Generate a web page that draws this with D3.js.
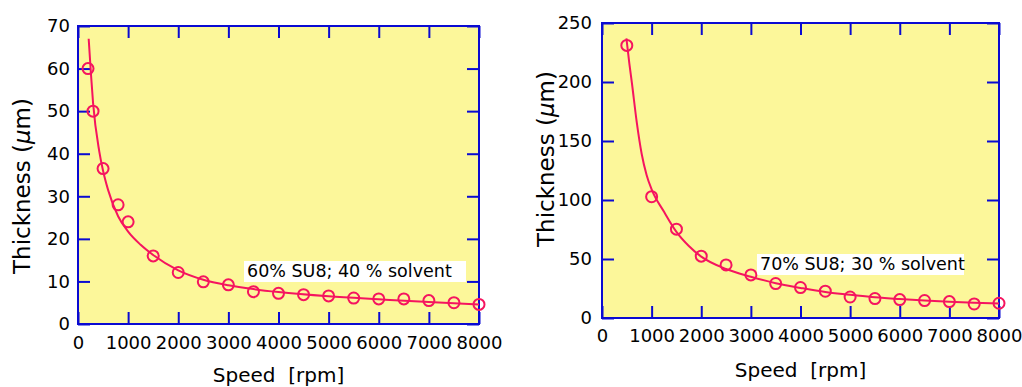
<!DOCTYPE html>
<html>
<head>
<meta charset="utf-8">
<script src="https://cdn.jsdelivr.net/npm/d3@7"></script>
<style>
  html, body { margin: 0; padding: 0; background: #ffffff; }
  svg { display: block; }
  text { font-family: "DejaVu Sans", Verdana, sans-serif; fill: #000; }
</style>
</head>
<body>
<svg id="chart" width="1022" height="387"></svg>
<script>
// ---------- DATA ----------
const speedTicks = [0, 1000, 2000, 3000, 4000, 5000, 6000, 7000, 8000];

// Left chart: 60% SU8; 40 % solvent
const leftTitle = "60% SU8; 40 % solvent";
const leftYTicks = [0, 10, 20, 30, 40, 50, 60, 70];
const leftSpeeds = [200, 300, 500, 800, 1000, 1500, 2000, 2500, 3000, 3500, 4000, 4500, 5000, 5500, 6000, 6500, 7000, 7500, 8000];
const leftThickness = [60, 50, 36.5, 28, 24, 16, 12.1, 9.9, 9.2, 7.6, 7.2, 6.9, 6.6, 6.1, 5.9, 5.9, 5.5, 5.0, 4.6];
// fitted curve
const leftFitSpeeds = [213, 260, 300, 425, 500, 600, 800, 1000, 1250, 1500, 2000, 2500, 3000, 3500, 4000, 5000, 6000, 7000, 8000];
const leftFitThickness = [67, 58.5, 52, 40.5, 36, 31.5, 25.3, 21.7, 18.6, 16.2, 12.6, 10.4, 9.1, 8.2, 7.5, 6.5, 5.8, 5.15, 4.6];

// Right chart: 70% SU8; 30 % solvent
const rightTitle = "70% SU8; 30 % solvent";
const rightYTicks = [0, 50, 100, 150, 200, 250];
const rightSpeeds = [500, 1000, 1500, 2000, 2500, 3000, 3500, 4000, 4500, 5000, 5500, 6000, 6500, 7000, 7500, 8000];
const rightThickness = [231, 102.8, 75.3, 52.4, 45, 36.5, 29.2, 25.8, 22.7, 17.8, 16.5, 15.6, 14.8, 13.9, 11.9, 12.5];
const rightFitSpeeds = [492, 550, 600, 700, 800, 900, 1000, 1250, 1500, 1750, 2000, 2500, 3000, 3500, 4000, 4500, 5000, 5500, 6000, 6500, 7000, 7500, 8000];
const rightFitThickness = [237, 216, 200, 166, 139, 121, 109, 90, 73, 61, 52, 41.5, 35, 29.5, 25.5, 22, 19.7, 17.5, 16, 14.8, 13.8, 13, 12.3];

const xLabel = "Speed  [rpm]";

// ---------- STYLE ----------
const AXIS = "#0a0ad2";
const PLOT_BG = "#fcf79a";
const MARK = "#f5145f";

const svg = d3.select("#chart");

function drawPanel(cfg) {
  const g = svg.append("g");
  const x = d3.scaleLinear().domain([0, 8000]).range([cfg.left, cfg.right]);
  const y = d3.scaleLinear().domain([0, cfg.yMax]).range([cfg.bottom, cfg.top]);

  // plot background
  g.append("rect")
    .attr("x", cfg.left).attr("y", cfg.top)
    .attr("width", cfg.right - cfg.left).attr("height", cfg.bottom - cfg.top)
    .attr("fill", PLOT_BG);

  const styleAxis = sel => {
    sel.select(".domain").remove();
    sel.selectAll(".tick line").attr("stroke", AXIS).attr("stroke-width", 2);
    sel.selectAll(".tick text").style("font-size", "18px").style("font-family", '"DejaVu Sans", Verdana, sans-serif').attr("fill", "#000");
  };

  // bottom
  g.append("g").attr("transform", `translate(0,${cfg.bottom})`)
    .call(d3.axisBottom(x).tickValues(speedTicks).tickFormat(d3.format("d"))
      .tickSizeInner(-12).tickSizeOuter(0).tickPadding(cfg.xPad))
    .call(styleAxis);
  // top
  g.append("g").attr("transform", `translate(0,${cfg.top})`)
    .call(d3.axisTop(x).tickValues(speedTicks).tickFormat("")
      .tickSizeInner(-12).tickSizeOuter(0))
    .call(styleAxis);
  // left
  g.append("g").attr("transform", `translate(${cfg.left},0)`)
    .call(d3.axisLeft(y).tickValues(cfg.yTicks).tickFormat(d3.format("d"))
      .tickSizeInner(-12).tickSizeOuter(0).tickPadding(cfg.yPad))
    .call(styleAxis);
  // right
  g.append("g").attr("transform", `translate(${cfg.right},0)`)
    .call(d3.axisRight(y).tickValues(cfg.yTicks).tickFormat("")
      .tickSizeInner(-12).tickSizeOuter(0))
    .call(styleAxis);

  // frame
  g.append("rect")
    .attr("x", cfg.left).attr("y", cfg.top)
    .attr("width", cfg.right - cfg.left).attr("height", cfg.bottom - cfg.top)
    .attr("fill", "none").attr("stroke", AXIS).attr("stroke-width", 2);

  // annotation box
  const ann = g.append("g");
  ann.append("rect")
    .attr("x", cfg.ann.x - 3).attr("y", cfg.ann.y - 16)
    .attr("width", cfg.ann.w).attr("height", 21)
    .attr("fill", "#ffffff");
  ann.append("text")
    .attr("x", cfg.ann.x).attr("y", cfg.ann.y)
    .style("font-size", "17.5px")
    .text(cfg.title);

  // fit curve
  const fit = cfg.fitX.map((s, i) => [s, cfg.fitY[i]]);
  g.append("path")
    .datum(fit)
    .attr("fill", "none").attr("stroke", MARK).attr("stroke-width", 2)
    .attr("d", d3.line().x(d => x(d[0])).y(d => y(d[1])).curve(d3.curveMonotoneX));

  // points
  const pts = cfg.px.map((s, i) => [s, cfg.py[i]]);
  g.append("g").selectAll("circle").data(pts).join("circle")
    .attr("cx", d => x(d[0])).attr("cy", d => y(d[1])).attr("r", 5.5)
    .attr("fill", "none").attr("stroke", MARK).attr("stroke-width", 2);

  // y-axis title
  const yt = g.append("text")
    .attr("transform", `translate(${cfg.yTitleX},${cfg.yTitleY}) rotate(-90)`)
    .attr("text-anchor", "middle")
    .style("font-size", "23px");
  yt.append("tspan").text("Thickness (");
  yt.append("tspan").style("font-style", "italic").text("\u03BC");
  yt.append("tspan").text("m)");

  // x-axis title
  g.append("text")
    .attr("x", (cfg.left + cfg.right) / 2).attr("y", cfg.xTitleY)
    .attr("text-anchor", "middle")
    .attr("xml:space", "preserve")
    .style("white-space", "pre")
    .style("font-size", "20px")
    .text(xLabel);
}

drawPanel({
  left: 78, right: 479, top: 26, bottom: 324,
  yMax: 70, yTicks: leftYTicks, xPad: 12, yPad: 8,
  px: leftSpeeds, py: leftThickness, fitX: leftFitSpeeds, fitY: leftFitThickness,
  title: leftTitle, ann: { x: 247, y: 277, w: 222 },
  yTitleX: 30, yTitleY: 186, xTitleY: 382
});

drawPanel({
  left: 602, right: 999, top: 23, bottom: 318,
  yMax: 250, yTicks: rightYTicks, xPad: 11, yPad: 10,
  px: rightSpeeds, py: rightThickness, fitX: rightFitSpeeds, fitY: rightFitThickness,
  title: rightTitle, ann: { x: 760, y: 270, w: 207 },
  yTitleX: 554, yTitleY: 159, xTitleY: 377
});
</script>
</body>
</html>
